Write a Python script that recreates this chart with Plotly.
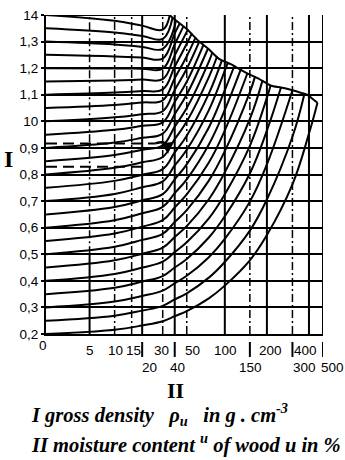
import numpy as np
import plotly.graph_objects as go

# ---------------------------------------------------------------------------
# Abscissa of the nomogram: moisture content u (%) on a stretched scale.
# SCALE_U are the graduated values, SCALE_RULER their distance along the axis.
# ---------------------------------------------------------------------------
SCALE_U = [0, 5, 10, 15, 20, 30, 40, 50, 100, 150, 200, 300, 400, 500]
SCALE_RULER = [0, 43.5, 68.5, 85.5, 96, 116.5, 128.5, 140.5, 178.5, 203.5,
               220.5, 246, 262.5, 276.5]


def xs(u):
    """Map moisture content to the axis ruler (piecewise in log(u+4))."""
    u = np.asarray(u, dtype=float)
    return np.interp(np.log(u + 4.0), np.log(np.array(SCALE_U) + 4.0), SCALE_RULER)


# ---------------------------------------------------------------------------
# Curve family: gross density rho_u for oven-dry densities 0.20 ... 1.40
# values at U_GRID, each curve running up to its end on the saturation line
# ---------------------------------------------------------------------------
U_GRID = [0, 10, 20, 30, 40, 50, 75, 100, 150, 200, 300, 400]

RHO_DRY = [0.20, 0.25, 0.30, 0.35, 0.40, 0.45, 0.50, 0.55, 0.60, 0.65, 0.70,
           0.75, 0.80, 0.85, 0.90, 0.95, 1.00, 1.05, 1.10, 1.15, 1.20, 1.25,
           1.30, 1.35, 1.40]

RHO_ROWS = [
    [0.200, 0.216, 0.232, 0.248, 0.267, 0.286, 0.334, 0.382, 0.477, 0.572, 0.763, 0.954],
    [0.250, 0.269, 0.288, 0.306, 0.330, 0.353, 0.412, 0.471, 0.589, 0.706, 0.942],
    [0.300, 0.322, 0.343, 0.363, 0.391, 0.419, 0.489, 0.558, 0.698, 0.838],
    [0.350, 0.374, 0.397, 0.418, 0.450, 0.482, 0.563, 0.643, 0.804, 0.965],
    [0.400, 0.426, 0.450, 0.472, 0.508, 0.545, 0.635, 0.726, 0.908, 1.089],
    [0.450, 0.477, 0.502, 0.525, 0.565, 0.606, 0.707, 0.808, 1.009],
    [0.500, 0.528, 0.554, 0.577, 0.621, 0.666, 0.777, 0.888, 1.110],
    [0.550, 0.578, 0.604, 0.628, 0.676, 0.725, 0.845, 0.966],
    [0.600, 0.628, 0.654, 0.678, 0.730, 0.782, 0.913, 1.043],
    [0.650, 0.678, 0.703, 0.726, 0.782, 0.838, 0.977, 1.117],
    [0.700, 0.727, 0.752, 0.774, 0.834, 0.893, 1.042, 1.191],
    [0.750, 0.776, 0.799, 0.820, 0.883, 0.946, 1.104],
    [0.800, 0.825, 0.846, 0.866, 0.933, 0.999, 1.166],
    [0.850, 0.873, 0.893, 0.910, 0.980, 1.050, 1.225],
    [0.900, 0.920, 0.938, 0.954, 1.027, 1.101],
    [0.950, 0.968, 0.983, 0.996, 1.073, 1.149],
    [1.000, 1.015, 1.027, 1.038, 1.118, 1.198],
    [1.050, 1.061, 1.071, 1.079, 1.162, 1.245],
    [1.100, 1.108, 1.114, 1.120, 1.206, 1.292],
    [1.150, 1.154, 1.157, 1.159, 1.248],
    [1.200, 1.199, 1.198, 1.198, 1.290],
    [1.250, 1.244, 1.240, 1.236, 1.331],
    [1.300, 1.289, 1.280, 1.273],
    [1.350, 1.334, 1.321, 1.310],
    [1.400, 1.378, 1.360, 1.345],
]

# end of every curve on the saturation (maximum moisture) line
END_U = [458, 370, 300, 250, 212, 186, 164, 144, 130, 117, 105, 95, 87, 80,
         74, 68, 63, 59, 55, 51, 47, 44, 41, 38, 35.5]
END_RHO = [1.070, 1.105, 1.117, 1.127, 1.134, 1.155, 1.170, 1.180, 1.197,
           1.210, 1.220, 1.230, 1.244, 1.260, 1.275, 1.288, 1.300, 1.317,
           1.331, 1.345, 1.357, 1.369, 1.379, 1.390, 1.398]

# saturation line
BOUND_U = [35.5, 38, 50, 63, 75, 90, 110, 144, 175, 212, 250, 300, 350, 388, 420, 458]
BOUND_RHO = [1.400, 1.390, 1.347, 1.300, 1.271, 1.235, 1.215, 1.180, 1.160,
             1.135, 1.127, 1.117, 1.107, 1.100, 1.086, 1.070]

# worked example (dashed reading lines)
EXAMPLE_RHO = [0.917, 0.829]
EXAMPLE_U_END = [26, 20]

# axis graduation
Y_TICKS = [0.2, 0.3, 0.4, 0.5, 0.6, 0.7, 0.8, 0.9, 1.0, 1.1, 1.2, 1.3, 1.4]
Y_TEXT = ["0,2", "0,3", "0,4", "0,5", "0,6", "0,7", "0,8", "0,9", "10",
          "1,1", "1,2", "1,3", "14"]
GRID_SOLID = [20, 40, 100, 200, 400, 500]
GRID_DASHED = [10, 15, 30, 50, 150, 300]
LONG_TICKS = [20, 40, 150, 300, 500]
ROW1_LABELS = [5, 10, 15, 30, 50, 100, 200, 400]
ROW1_SHIFT = [0, 1, 2, -1, 6, 1, 4, -3]
ROW2_LABELS = [20, 40, 150, 300, 500]
ROW2_SHIFT = [7, 3, 1, 12, 9]

TICK_FONT = "Liberation Sans, Arial, sans-serif"
SERIF = "Liberation Serif, Times New Roman, serif"
INK = "black"
TICK_SIZE = 13.5

fig = go.Figure()

# vertical grid
shapes = []
for u in GRID_SOLID:
    shapes.append(dict(type="line", xref="x", yref="y", x0=float(xs(u)), x1=float(xs(u)),
                       y0=0.2, y1=1.4, line=dict(color=INK, width=2)))
for u in GRID_DASHED:
    shapes.append(dict(type="line", xref="x", yref="y", x0=float(xs(u)), x1=float(xs(u)),
                       y0=0.2, y1=1.4, line=dict(color=INK, width=1.5, dash="8px,3px,2px,3px")))
# u = 5: solid in the lower part, broken above
shapes.append(dict(type="line", xref="x", yref="y", x0=float(xs(5)), x1=float(xs(5)),
                   y0=0.2, y1=0.5, line=dict(color=INK, width=2)))
shapes.append(dict(type="line", xref="x", yref="y", x0=float(xs(5)), x1=float(xs(5)),
                   y0=0.5, y1=1.4, line=dict(color=INK, width=1.5, dash="8px,3px,2px,3px")))
# top edge up to the start of the saturation line
shapes.append(dict(type="line", xref="x", yref="y", x0=0, x1=float(xs(BOUND_U[0])),
                   y0=1.4, y1=1.4, line=dict(color=INK, width=2)))
# long ticks below the axis for the second label row
for u in LONG_TICKS:
    shapes.append(dict(type="line", xref="x", yref="paper", x0=float(xs(u)), x1=float(xs(u)),
                       y0=-0.025, y1=-0.072, line=dict(color=INK, width=2)))
fig.update_layout(shapes=shapes)

# density curves
for row, ue, re in zip(RHO_ROWS, END_U, END_RHO):
    u = list(U_GRID[:len(row)]) + [ue]
    r = list(row) + [re]
    fig.add_trace(go.Scatter(x=xs(u), y=r, mode="lines",
                             line=dict(color=INK, width=2, shape="spline", smoothing=1.15),
                             hoverinfo="skip"))

# saturation line
fig.add_trace(go.Scatter(x=xs(BOUND_U), y=BOUND_RHO, mode="lines",
                         line=dict(color=INK, width=2, shape="spline", smoothing=0.6),
                         hoverinfo="skip"))

# dashed example lines
for r, ue in zip(EXAMPLE_RHO, EXAMPLE_U_END):
    fig.add_trace(go.Scatter(x=xs([0, ue]), y=[r, r], mode="lines",
                             line=dict(color=INK, width=2, dash="11px,6px"),
                             hoverinfo="skip"))
# hooked arrow at the end of the upper reading line
fig.add_trace(go.Scatter(x=xs([26, 30, 33, 34]), y=[0.917, 0.921, 0.910, 0.893],
                         mode="lines", line=dict(color=INK, width=2.5, shape="spline"),
                         hoverinfo="skip"))

annotations = [
    dict(x=float(xs(34.2)), y=0.878, ax=float(xs(33.6)), ay=0.898, xref="x", yref="y",
         axref="x", ayref="y", showarrow=True, arrowhead=2, arrowsize=1.1,
         arrowwidth=2, arrowcolor=INK, text=""),
]

# x graduation
for u, s in zip(ROW1_LABELS, ROW1_SHIFT):
    annotations.append(dict(x=float(xs(u)), y=-0.052, xref="x", yref="paper", xshift=s,
                            text=str(u), showarrow=False, yanchor="middle", xanchor="center",
                            font=dict(family=TICK_FONT, size=TICK_SIZE, color=INK)))
for u, s in zip(ROW2_LABELS, ROW2_SHIFT):
    annotations.append(dict(x=float(xs(u)), y=-0.104, xref="x", yref="paper", xshift=s,
                            text=str(u), showarrow=False, yanchor="middle", xanchor="center",
                            font=dict(family=TICK_FONT, size=TICK_SIZE, color=INK)))
annotations.append(dict(x=float(xs(0)), y=-0.036, xref="x", yref="paper", xshift=-3,
                        text="0", showarrow=False, yanchor="middle", xanchor="center",
                        font=dict(family=TICK_FONT, size=TICK_SIZE, color=INK)))

# axis titles (roman numerals)
annotations.append(dict(x=-0.137, y=0.549, xref="paper", yref="paper", text="<b>I</b>",
                        showarrow=False, xanchor="center", yanchor="middle",
                        font=dict(family=SERIF, size=24, color=INK)))
annotations.append(dict(x=0.469, y=-0.178, xref="paper", yref="paper", text="<b>II</b>",
                        showarrow=False, xanchor="center", yanchor="middle",
                        font=dict(family=SERIF, size=22, color=INK)))

# legend text
annotations.append(dict(x=-0.063, y=-0.251, xref="paper", yref="paper", xanchor="left",
                        yanchor="middle",
                        text="<b><i>I gross density\u00a0\u00a0\u00a0ρ<sub>u</sub>\u00a0\u00a0\u00a0in g . cm<sup>-3</sup></i></b>",
                        showarrow=False, font=dict(family=SERIF, size=20.5, color=INK)))
annotations.append(dict(x=-0.063, y=-0.343, xref="paper", yref="paper", xanchor="left",
                        yanchor="middle",
                        text="<b><i>II moisture content <sup>u</sup> of wood u in %</i></b>",
                        showarrow=False, font=dict(family=SERIF, size=20.5, color=INK)))

fig.update_layout(
    annotations=annotations,
    width=345, height=460,
    margin=dict(l=46, r=22, t=8, b=126),
    paper_bgcolor="white", plot_bgcolor="white",
    showlegend=False,
    xaxis=dict(range=[0, 276.5], showgrid=False, zeroline=False, showticklabels=False,
               ticks="", showline=True, linecolor=INK, linewidth=2, fixedrange=True),
    yaxis=dict(range=[0.2, 1.4], tickvals=Y_TICKS, ticktext=Y_TEXT, showgrid=True,
               gridcolor=INK, gridwidth=2, zeroline=False, showline=True, linecolor=INK,
               linewidth=2, ticks="outside", ticklen=3, tickwidth=2, tickcolor=INK,
               ticklabeloverflow="allow",
               tickfont=dict(family=TICK_FONT, size=TICK_SIZE, color=INK), fixedrange=True),
)

fig.write_html("out.html")
